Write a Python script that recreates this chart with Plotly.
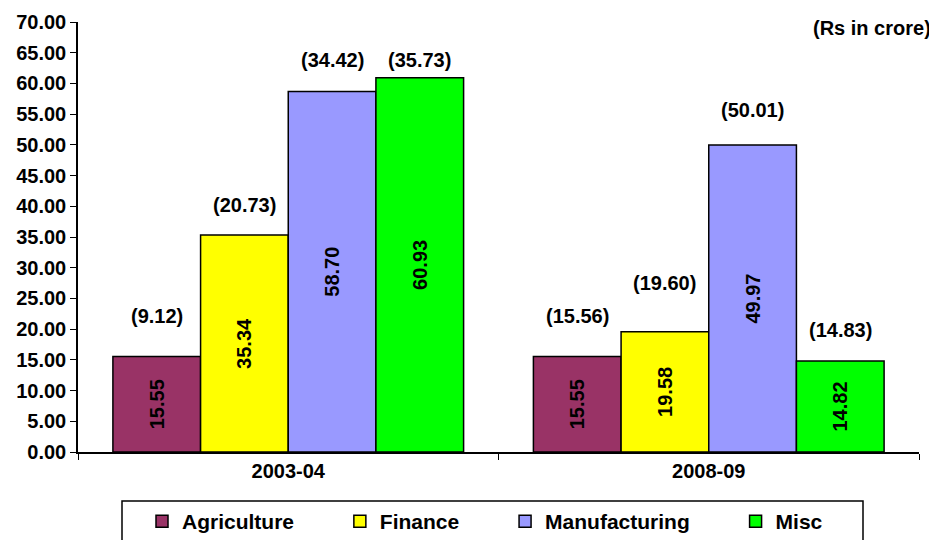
import plotly.graph_objects as go

categories = ["2003-04", "2008-09"]
series_names = ["Agriculture", "Finance", "Manufacturing", "Misc"]
values = {
    "Agriculture": [15.55, 15.55],
    "Finance": [35.34, 19.58],
    "Manufacturing": [58.70, 49.97],
    "Misc": [60.93, 14.82],
}
bracket_labels = {
    "Agriculture": ["(9.12)", "(15.56)"],
    "Finance": ["(20.73)", "(19.60)"],
    "Manufacturing": ["(34.42)", "(50.01)"],
    "Misc": ["(35.73)", "(14.83)"],
}
y_ticks = [i * 5 for i in range(15)]

colors = {
    "Agriculture": "#993366",
    "Finance": "#FFFF00",
    "Manufacturing": "#9999FF",
    "Misc": "#00FF00",
}
# pixel offsets of bracket labels above bar tops (layout only)
label_shift = {
    "Agriculture": [40, 40],
    "Finance": [30, 49],
    "Manufacturing": [31, 35],
    "Misc": [18, 31],
}

FONT = "Liberation Sans, Arial, sans-serif"
PAD = "\u00a0" * 7

# page body has an 8px margin: figure sized to fill the rest of the window
W, H = 929, 532
L, R, T, B = 70, 18, 14, 88
PW, PH = W - L - R, H - T - B

fig = go.Figure()
for k, s in enumerate(series_names):
    fig.add_trace(go.Bar(
        name=s + (PAD if k < len(series_names) - 1 else ""),
        x=categories,
        y=values[s],
        marker=dict(color=colors[s], line=dict(color="black", width=1.5)),
        text=[f"{v:.2f}" for v in values[s]],
        textposition="inside",
        insidetextanchor="middle",
        textangle=-90,
        textfont=dict(family=FONT, size=20, color="black", weight="bold"),
        constraintext="none",
    ))

n = len(series_names)
bargap = 0.166
group_w = 1 - bargap
bar_w = group_w / n
annotations = []
for i, s in enumerate(series_names):
    offset = -group_w / 2 + bar_w * (i + 0.5)
    for j, c in enumerate(categories):
        annotations.append(dict(
            x=j + offset, y=values[s][j], xref="x", yref="y",
            text=bracket_labels[s][j], showarrow=False,
            yanchor="middle", yshift=label_shift[s][j],
            font=dict(family=FONT, size=20, color="black", weight="bold"),
        ))
annotations.append(dict(
    x=1.0, y=1.0, xref="paper", yref="paper", xanchor="right", yanchor="middle",
    xshift=14, yshift=-6,
    text="(Rs in crore)", showarrow=False,
    font=dict(family=FONT, size=20, color="black", weight="bold"),
))

fig.update_layout(
    width=W, height=H,
    margin=dict(l=L, r=R, t=T, b=B, autoexpand=False),
    paper_bgcolor="white", plot_bgcolor="white",
    barmode="group", bargap=bargap, bargroupgap=0,
    showlegend=True,
    legend=dict(
        orientation="h", x=(134 - L) / PW, xanchor="left",
        y=1 - 493 / H, yref="container", yanchor="top",
        borderwidth=0, bgcolor="rgba(0,0,0,0)",
        font=dict(family=FONT, size=21, color="black", weight="bold"),
        itemwidth=30, traceorder="normal",
    ),
    annotations=annotations,
    shapes=[dict(
        type="rect", xref="paper", yref="paper",
        x0=(114 - L) / PW, x1=(855 - L) / PW,
        y0=(T + PH - 493) / PH, y1=(T + PH - 540) / PH,
        line=dict(color="black", width=1.5), fillcolor="rgba(0,0,0,0)",
        layer="above",
    )],
    font=dict(family=FONT, color="black"),
)
fig.update_xaxes(
    type="category", showline=True, linecolor="black", linewidth=1.5,
    ticks="outside", tickson="boundaries", ticklen=6, tickcolor="black",
    tickfont=dict(family=FONT, size=20, color="black", weight="bold"),
    showgrid=False, automargin=False,
)
fig.update_yaxes(
    range=[0, 70], tickvals=y_ticks, ticktext=[f"{v:.2f}" for v in y_ticks],
    showline=True, linecolor="black", linewidth=1.5,
    ticks="outside", ticklen=6, tickcolor="black",
    tickfont=dict(family=FONT, size=20, color="black", weight="bold"),
    showgrid=False, zeroline=False, automargin=False,
)
fig.write_html("out.html")
